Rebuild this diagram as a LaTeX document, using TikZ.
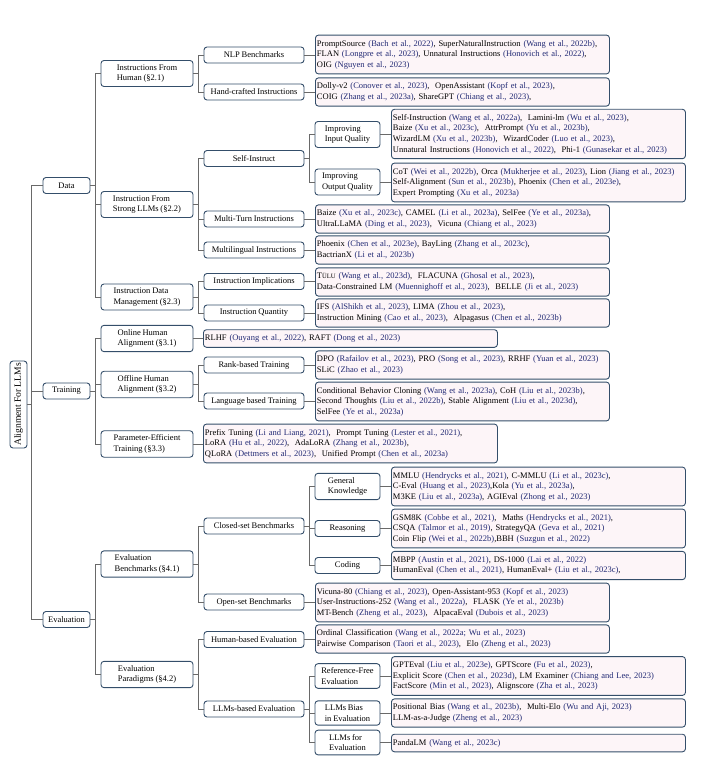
\documentclass[tikz,border=0pt]{standalone}
\usepackage{fontspec}
\setmainfont{Liberation Serif}[WordSpace=0.85]
\usepackage{tikz}
\usetikzlibrary{
  positioning,
  calc
}
\definecolor{bordercolor}{RGB}{52, 78, 106}
\definecolor{leafcolor}{RGB}{253, 245, 248}
\definecolor{linkcolor}{RGB}{105, 105, 105}
\definecolor{citecolor}{RGB}{32, 40, 115}
\newcommand{\ct}[1]{\textcolor{citecolor}{#1}}
\newcommand{\tulu}{T{\fontsize{6.6}{8}\selectfont ÜLU}}
\newcommand{\leaftext}[1]{\begin{tabular}{@{}l@{}}#1\end{tabular}}
\tikzset{
basetext/.style={
  font=\fontsize{8.5}{10.6}\selectfont,
  text=black
},
catbox/.style={
  draw=bordercolor,
  line width=0.9pt,
  rounded corners=3pt,
  fill=white,
  align=left,
  inner xsep=2pt,
  inner ysep=4pt,
  minimum height=16pt,
  basetext
},
leafbox/.style={
  draw=bordercolor,
  line width=0.9pt,
  rounded corners=3pt,
  fill=leafcolor,
  text width=291pt,
  inner xsep=1.5pt,
  inner ysep=3.5pt,
  anchor=west,
  basetext
},
link/.style={
  draw=linkcolor,
  line width=0.8pt
}
}

\begin{document}
\begin{tikzpicture}[
    x=1pt, y=-1pt,
    % Estilos dos niveis
    rootbox/.style={catbox, rotate=90, align=center, minimum width=87pt, minimum height=17pt, inner ysep=1pt, font=\fontsize{9.6}{11}\selectfont},
    lvlone/.style={catbox, minimum width=47pt},
    lvltwo/.style={catbox, minimum width=92pt},
    lvlthree/.style={catbox, minimum width=100pt},
    lvlfour/.style={catbox, minimum width=65pt},
]
\useasboundingbox (0,0) rectangle (708,759);

% ============================================================================
% RAIZ E NIVEL 1
% ============================================================================
\node[rootbox] (root) at (18.5,404.5) {Alignment For LLMs};

\node[lvlone] (data) at (66.5,185.5) {Data};
\node[lvlone] (training) at (66.5,391) {Training};
\node[lvlone] (evaluation) at (66.5,619.5) {Evaluation};

% ============================================================================
% NIVEL 2
% ============================================================================
\node[lvltwo] (ifh) at (147,73.5) {Instructions From\\Human (§2.1)};
\node[lvltwo] (ifs) at (147,204.5) {Instruction From\\Strong LLMs (§2.2)};
\node[lvltwo] (idm) at (147,297) {Instruction Data\\Management (§2.3)};
\node[lvltwo] (ona) at (147,338.5) {Online Human\\Alignment (§3.1)};
\node[lvltwo] (ofa) at (147,384.5) {Offline Human\\Alignment (§3.2)};
\node[lvltwo] (pet) at (147,444) {Parameter-Efficient\\Training (§3.3)};
\node[lvltwo] (evb) at (147,564) {Evaluation\\Benchmarks (§4.1)};
\node[lvltwo] (evp) at (147,674.5) {Evaluation\\Paradigms (§4.2)};

% ============================================================================
% NIVEL 3
% ============================================================================
\node[lvlthree] (nlp) at (254,55) {NLP Benchmarks};
\node[lvlthree] (hci) at (254,92) {Hand-crafted Instructions};
\node[lvlthree] (sin) at (254,158.5) {Self-Instruct};
\node[lvlthree] (mti) at (254,219) {Multi-Turn Instructions};
\node[lvlthree] (mli) at (254,250) {Multilingual Instructions};
\node[lvlthree] (iim) at (254,281.5) {Instruction Implications};
\node[lvlthree] (iqu) at (254,313) {Instruction Quantity};
\node[lvlthree] (rbt) at (254,365) {Rank-based Training};
\node[lvlthree] (lbt) at (254,401) {Language based Training};
\node[lvlthree] (csb) at (254,526) {Closed-set Benchmarks};
\node[lvlthree] (osb) at (254,602) {Open-set Benchmarks};
\node[lvlthree] (hbe) at (254,639.5) {Human-based Evaluation};
\node[lvlthree] (lbe) at (254,709) {LLMs-based Evaluation};

% ============================================================================
% NIVEL 4
% ============================================================================
\node[lvlfour] (iiq) at (347.5,134.5) {Improving\\Input Quality};
\node[lvlfour] (ioq) at (347.5,182) {Improving\\Output Quality};
\node[lvlfour] (gkn) at (347.5,486.5) {General\\Knowledge};
\node[lvlfour] (rsn) at (347.5,528.5) {Reasoning};
\node[lvlfour] (cod) at (347.5,565.5) {Coding};
\node[lvlfour] (rfe) at (347.5,676) {Reference-Free\\Evaluation};
\node[lvlfour] (lbi) at (347.5,713) {LLMs Bias\\in Evaluation};
\node[lvlfour] (lfe) at (347.5,742.5) {LLMs for\\Evaluation};

% ============================================================================
% FOLHAS
% ============================================================================
\node[leafbox] (nlpleaf) at (315,54.5) {\leaftext{PromptSource \ct{(Bach et al., 2022)}, SuperNaturalInstruction \ct{(Wang et al., 2022b)},\\FLAN \ct{(Longpre et al., 2023)}, Unnatural Instructions \ct{(Honovich et al., 2022)},\\OIG \ct{(Nguyen et al., 2023)}}};
\node[leafbox] (hcileaf) at (315,92) {\leaftext{Dolly-v2 \ct{(Conover et al., 2023)},\ \ OpenAssistant \ct{(Kopf et al., 2023)},\\COIG \ct{(Zhang et al., 2023a)}, ShareGPT \ct{(Chiang et al., 2023)},}};
\node[leafbox] (iiqleaf) at (391,134) {\leaftext{Self-Instruction \ct{(Wang et al., 2022a)},\ \ Lamini-lm \ct{(Wu et al., 2023)},\\Baize \ct{(Xu et al., 2023c)},\ \ AttrPrompt \ct{(Yu et al., 2023b)},\\WizardLM \ct{(Xu et al., 2023b)},\ \ WizardCoder \ct{(Luo et al., 2023)},\\Unnatural Instructions \ct{(Honovich et al., 2022)},\ \ Phi-1 \ct{(Gunasekar et al., 2023)}}};
\node[leafbox] (ioqleaf) at (391,182.5) {\leaftext{CoT \ct{(Wei et al., 2022b)}, Orca \ct{(Mukherjee et al., 2023)}, Lion \ct{(Jiang et al., 2023)}\\Self-Alignment \ct{(Sun et al., 2023b)}, Phoenix \ct{(Chen et al., 2023e)},\\Expert Prompting \ct{(Xu et al., 2023a)}}};
\node[leafbox] (mtileaf) at (315,219) {\leaftext{Baize \ct{(Xu et al., 2023c)}, CAMEL \ct{(Li et al., 2023a)}, SelFee \ct{(Ye et al., 2023a)},\\UltraLLaMA \ct{(Ding et al., 2023)},\ \ Vicuna \ct{(Chiang et al., 2023)}}};
\node[leafbox] (mlileaf) at (315,250) {\leaftext{Phoenix \ct{(Chen et al., 2023e)}, BayLing \ct{(Zhang et al., 2023c)},\\BactrianX \ct{(Li et al., 2023b)}}};
\node[leafbox] (iimleaf) at (315,282) {\leaftext{\tulu{} \ct{(Wang et al., 2023d)},\ \ FLACUNA \ct{(Ghosal et al., 2023)},\\Data-Constrained LM \ct{(Muennighoff et al., 2023)},\ \ BELLE \ct{(Ji et al., 2023)}}};
\node[leafbox] (iquleaf) at (315,313) {\leaftext{IFS \ct{(AlShikh et al., 2023)}, LIMA \ct{(Zhou et al., 2023)},\\Instruction Mining \ct{(Cao et al., 2023)},\ \ Alpagasus \ct{(Chen et al., 2023b)}}};
\node[leafbox] (onaleaf) at (203,338.5) {\leaftext{RLHF \ct{(Ouyang et al., 2022)}, RAFT \ct{(Dong et al., 2023)}}};
\node[leafbox] (rbtleaf) at (315,365) {\leaftext{DPO \ct{(Rafailov et al., 2023)}, PRO \ct{(Song et al., 2023)}, RRHF \ct{(Yuan et al., 2023)}\\SLiC \ct{(Zhao et al., 2023)}}};
\node[leafbox] (lbtleaf) at (315,401.5) {\leaftext{Conditional Behavior Cloning \ct{(Wang et al., 2023a)}, CoH \ct{(Liu et al., 2023b)},\\Second Thoughts \ct{(Liu et al., 2022b)}, Stable Alignment \ct{(Liu et al., 2023d)},\\SelFee \ct{(Ye et al., 2023a)}}};
\node[leafbox] (petleaf) at (203,443.5) {\leaftext{Prefix Tuning \ct{(Li and Liang, 2021)},\ \ Prompt Tuning \ct{(Lester et al., 2021)},\\LoRA \ct{(Hu et al., 2022)},\ \ AdaLoRA \ct{(Zhang et al., 2023b)},\\QLoRA \ct{(Dettmers et al., 2023)},\ \ Unified Prompt \ct{(Chen et al., 2023a)}}};
\node[leafbox] (gknleaf) at (391,486.5) {\leaftext{MMLU \ct{(Hendrycks et al., 2021)}, C-MMLU \ct{(Li et al., 2023c)},\\C-Eval \ct{(Huang et al., 2023)},Kola \ct{(Yu et al., 2023a)},\\M3KE \ct{(Liu et al., 2023a)}, AGIEval \ct{(Zhong et al., 2023)}}};
\node[leafbox] (rsnleaf) at (391,528.5) {\leaftext{GSM8K \ct{(Cobbe et al., 2021)},\ \ Maths \ct{(Hendrycks et al., 2021)},\\CSQA \ct{(Talmor et al., 2019)}, StrategyQA \ct{(Geva et al., 2021)}\\Coin Flip \ct{(Wei et al., 2022b)},BBH \ct{(Suzgun et al., 2022)}}};
\node[leafbox] (codleaf) at (391,565.5) {\leaftext{MBPP \ct{(Austin et al., 2021)}, DS-1000 \ct{(Lai et al., 2022)}\\HumanEval \ct{(Chen et al., 2021)}, HumanEval+ \ct{(Liu et al., 2023c)},}};
\node[leafbox] (osbleaf) at (315,602.5) {\leaftext{Vicuna-80 \ct{(Chiang et al., 2023)}, Open-Assistant-953 \ct{(Kopf et al., 2023)}\\User-Instructions-252 \ct{(Wang et al., 2022a)},\ \ FLASK \ct{(Ye et al., 2023b)}\\MT-Bench \ct{(Zheng et al., 2023)},\ \ AlpacaEval \ct{(Dubois et al., 2023)}}};
\node[leafbox] (hbeleaf) at (315,639) {\leaftext{Ordinal Classification \ct{(Wang et al., 2022a; Wu et al., 2023)}\\Pairwise Comparison \ct{(Taori et al., 2023)},\ \ Elo \ct{(Zheng et al., 2023)}}};
\node[leafbox] (rfeleaf) at (391,676) {\leaftext{GPTEval \ct{(Liu et al., 2023e)}, GPTScore \ct{(Fu et al., 2023)},\\Explicit Score \ct{(Chen et al., 2023d)}, LM Examiner \ct{(Chiang and Lee, 2023)}\\FactScore \ct{(Min et al., 2023)}, Alignscore \ct{(Zha et al., 2023)}}};
\node[leafbox] (lbileaf) at (391,713) {\leaftext{Positional Bias \ct{(Wang et al., 2023b)},\ \ Multi-Elo \ct{(Wu and Aji, 2023)}\\LLM-as-a-Judge \ct{(Zheng et al., 2023)}}};
\node[leafbox] (lfeleaf) at (391,743) {\leaftext{PandaLM \ct{(Wang et al., 2023c)}}};

% ============================================================================
% LIGACOES
% ============================================================================
% Raiz -> nivel 1
\draw[link] (root.south) -- ++(4,0) |- (data.west);
\draw[link] (root.south) -- ++(4,0) |- (training.west);
\draw[link] (root.south) -- ++(4,0) |- (evaluation.west);

% Nivel 1 -> nivel 2
\draw[link] (data.east) -- ++(5,0) |- (ifh.west);
\draw[link] (data.east) -- ++(5,0) |- (ifs.west);
\draw[link] (data.east) -- ++(5,0) |- (idm.west);
\draw[link] (training.east) -- ++(5,0) |- (ona.west);
\draw[link] (training.east) -- ++(5,0) |- (ofa.west);
\draw[link] (training.east) -- ++(5,0) |- (pet.west);
\draw[link] (evaluation.east) -- ++(5,0) |- (evb.west);
\draw[link] (evaluation.east) -- ++(5,0) |- (evp.west);

% Nivel 2 -> nivel 3
\draw[link] (ifh.east) -- ++(5,0) |- (nlp.west);
\draw[link] (ifh.east) -- ++(5,0) |- (hci.west);
\draw[link] (ifs.east) -- ++(5,0) |- (sin.west);
\draw[link] (ifs.east) -- ++(5,0) |- (mti.west);
\draw[link] (ifs.east) -- ++(5,0) |- (mli.west);
\draw[link] (idm.east) -- ++(5,0) |- (iim.west);
\draw[link] (idm.east) -- ++(5,0) |- (iqu.west);
\draw[link] (ofa.east) -- ++(5,0) |- (rbt.west);
\draw[link] (ofa.east) -- ++(5,0) |- (lbt.west);
\draw[link] (evb.east) -- ++(5,0) |- (csb.west);
\draw[link] (evb.east) -- ++(5,0) |- (osb.west);
\draw[link] (evp.east) -- ++(5,0) |- (hbe.west);
\draw[link] (evp.east) -- ++(5,0) |- (lbe.west);

% Nivel 3 -> nivel 4
\draw[link] (sin.east) -- ++(5,0) |- (iiq.west);
\draw[link] (sin.east) -- ++(5,0) |- (ioq.west);
\draw[link] (csb.east) -- ++(5,0) |- (gkn.west);
\draw[link] (csb.east) -- ++(5,0) |- (rsn.west);
\draw[link] (csb.east) -- ++(5,0) |- (cod.west);
\draw[link] (lbe.east) -- ++(5,0) |- (rfe.west);
\draw[link] (lbe.east) -- ++(5,0) |- (lbi.west);
\draw[link] (lbe.east) -- ++(5,0) |- (lfe.west);

% Folhas
\draw[link] (ona.east) -- (ona.east -| onaleaf.west);
\draw[link] (pet.east) -- (pet.east -| petleaf.west);
\draw[link] (nlp.east) -- (nlp.east -| nlpleaf.west);
\draw[link] (hci.east) -- (hci.east -| hcileaf.west);
\draw[link] (mti.east) -- (mti.east -| mtileaf.west);
\draw[link] (mli.east) -- (mli.east -| mlileaf.west);
\draw[link] (iim.east) -- (iim.east -| iimleaf.west);
\draw[link] (iqu.east) -- (iqu.east -| iquleaf.west);
\draw[link] (rbt.east) -- (rbt.east -| rbtleaf.west);
\draw[link] (lbt.east) -- (lbt.east -| lbtleaf.west);
\draw[link] (osb.east) -- (osb.east -| osbleaf.west);
\draw[link] (hbe.east) -- (hbe.east -| hbeleaf.west);
\draw[link] (iiq.east) -- (iiq.east -| iiqleaf.west);
\draw[link] (ioq.east) -- (ioq.east -| ioqleaf.west);
\draw[link] (gkn.east) -- (gkn.east -| gknleaf.west);
\draw[link] (rsn.east) -- (rsn.east -| rsnleaf.west);
\draw[link] (cod.east) -- (cod.east -| codleaf.west);
\draw[link] (rfe.east) -- (rfe.east -| rfeleaf.west);
\draw[link] (lbi.east) -- (lbi.east -| lbileaf.west);
\draw[link] (lfe.east) -- (lfe.east -| lfeleaf.west);

\end{tikzpicture}
\end{document}
